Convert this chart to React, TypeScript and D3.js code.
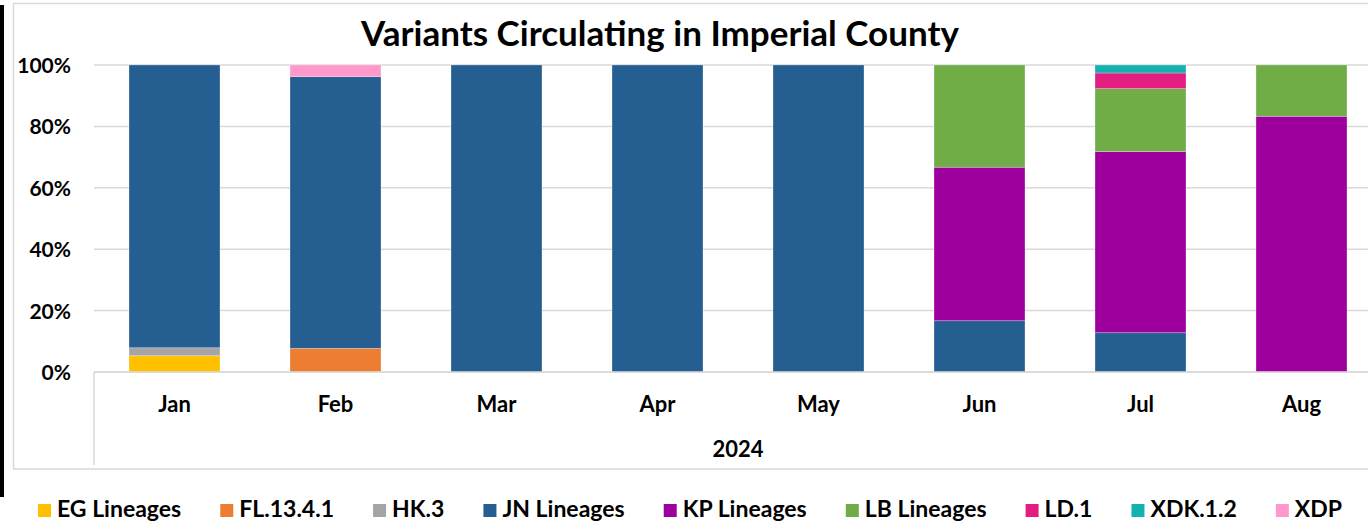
import React, { useEffect, useRef } from 'react';
import * as d3 from 'd3';

const months = ['Jan', 'Feb', 'Mar', 'Apr', 'May', 'Jun', 'Jul', 'Aug'];
const variants = ['EG Lineages', 'FL.13.4.1', 'HK.3', 'JN Lineages', 'KP Lineages', 'LB Lineages', 'LD.1', 'XDK.1.2', 'XDP'];
const colors = ['#FFC000', '#ED7D31', '#A5A5A5', '#255E91', '#9E009E', '#70AD47', '#E31E83', '#12B2B0', '#FF99CC'];

// share of sequences per month, in %
const egValues = [5.3, 0, 0, 0, 0, 0, 0, 0];
const flValues = [0, 7.7, 0, 0, 0, 0, 0, 0];
const hkValues = [2.6, 0, 0, 0, 0, 0, 0, 0];
const jnValues = [92.1, 88.5, 100, 100, 100, 16.7, 12.8, 0];
const kpValues = [0, 0, 0, 0, 0, 50.0, 59.0, 83.3];
const lbValues = [0, 0, 0, 0, 0, 33.3, 20.5, 16.7];
const ldValues = [0, 0, 0, 0, 0, 0, 5.1, 0];
const xdkValues = [0, 0, 0, 0, 0, 0, 2.6, 0];
const xdpValues = [0, 3.8, 0, 0, 0, 0, 0, 0];
const yTicks = [0, 20, 40, 60, 80, 100];

const seriesValues = [egValues, flValues, hkValues, jnValues, kpValues, lbValues, ldValues, xdkValues, xdpValues];

const W = 1368;
const H = 522;
const font = 'Lato, "Open Sans", sans-serif';

const App = () => {
  const svgRef = useRef(null);

  useEffect(() => {
    const svg = d3.select(svgRef.current);
    svg.selectAll('*').remove();

    const rows = months.map((m, i) => {
      const row: any = { month: m };
      variants.forEach((v, j) => { row[v] = seriesValues[j][i]; });
      return row;
    });
    const stacked = d3.stack().keys(variants)(rows);

    const x = d3.scaleBand().domain(months).range([94, 1382]).paddingInner(0.435).paddingOuter(0.2175);
    const y = d3.scaleLinear().domain([0, 100]).range([372, 65]);

    // chart frame
    svg.append('rect')
      .attr('x', 13.5).attr('y', 3.5)
      .attr('width', 1400).attr('height', 465.5)
      .attr('fill', '#fff').attr('stroke', '#D9D9D9').attr('stroke-width', 1.5);

    // black bar on the left edge
    svg.append('rect').attr('x', 0).attr('y', 5).attr('width', 4).attr('height', 492).attr('fill', '#000');

    svg.append('text')
      .attr('x', 660).attr('y', 46)
      .attr('text-anchor', 'middle')
      .style('font-family', font).style('font-weight', 700).style('font-size', '35px')
      .text('Variants Circulating in Imperial County');

    // gridlines
    svg.append('g').selectAll('line')
      .data(yTicks)
      .enter().append('line')
      .attr('x1', 94).attr('x2', W)
      .attr('y1', d => y(d)).attr('y2', d => y(d))
      .attr('stroke', '#D9D9D9').attr('stroke-width', 1.5);

    svg.append('g').selectAll('text')
      .data(yTicks)
      .enter().append('text')
      .attr('x', 71).attr('y', d => y(d) + 8)
      .attr('text-anchor', 'end')
      .style('font-family', font).style('font-weight', 700).style('font-size', '21px')
      .text(d => `${d}%`);

    // bars
    svg.append('g').selectAll('g')
      .data(stacked)
      .enter().append('g')
      .attr('fill', (d, i) => colors[i])
      .selectAll('rect')
      .data(d => d.filter(s => s[1] > s[0]))
      .enter().append('rect')
      .attr('x', d => x(d.data.month))
      .attr('width', x.bandwidth())
      .attr('y', d => y(d[1]))
      .attr('height', d => y(d[0]) - y(d[1]))
      .attr('stroke', '#fff').attr('stroke-opacity', 0.35).attr('stroke-width', 0.75);

    // category axis
    svg.append('line').attr('x1', 94).attr('x2', W).attr('y1', 372).attr('y2', 372)
      .attr('stroke', '#D9D9D9').attr('stroke-width', 1.5);
    svg.append('line').attr('x1', 94).attr('x2', 94).attr('y1', 372).attr('y2', 465)
      .attr('stroke', '#D9D9D9').attr('stroke-width', 1.5);

    svg.append('g').selectAll('text')
      .data(months)
      .enter().append('text')
      .attr('x', d => x(d) + x.bandwidth() / 2)
      .attr('y', 412)
      .attr('text-anchor', 'middle')
      .style('font-family', font).style('font-weight', 700).style('font-size', '22px')
      .text(d => d);

    svg.append('text')
      .attr('x', 738).attr('y', 457)
      .attr('text-anchor', 'middle')
      .style('font-family', font).style('font-weight', 700).style('font-size', '22px')
      .text('2024');

    // legend, laid out left to right so the last label ends where the reference does
    const lg = svg.append('g').selectAll('g')
      .data(variants)
      .enter().append('g');
    lg.append('rect').attr('x', 0).attr('y', 504).attr('width', 13).attr('height', 13)
      .attr('fill', (d, i) => colors[i]);
    const labels = lg.append('text').attr('x', 19).attr('y', 517)
      .style('font-family', font).style('font-weight', 700).style('font-size', '23px')
      .text(d => d);
    const widths = labels.nodes().map(n => (n as SVGTextElement).getComputedTextLength());
    const startX = 38;
    const endX = 1342;
    const itemsW = d3.sum(widths) + variants.length * 19;
    const gap = (endX - startX - itemsW) / (variants.length - 1);
    let cx = startX;
    lg.each(function (d, i) {
      d3.select(this).attr('transform', `translate(${cx},0)`);
      cx += 19 + widths[i] + gap;
    });
  }, []);

  return <svg ref={svgRef} width={W} height={H} style={{ position: 'absolute', left: 0, top: 0 }} />;
};

export default App;
